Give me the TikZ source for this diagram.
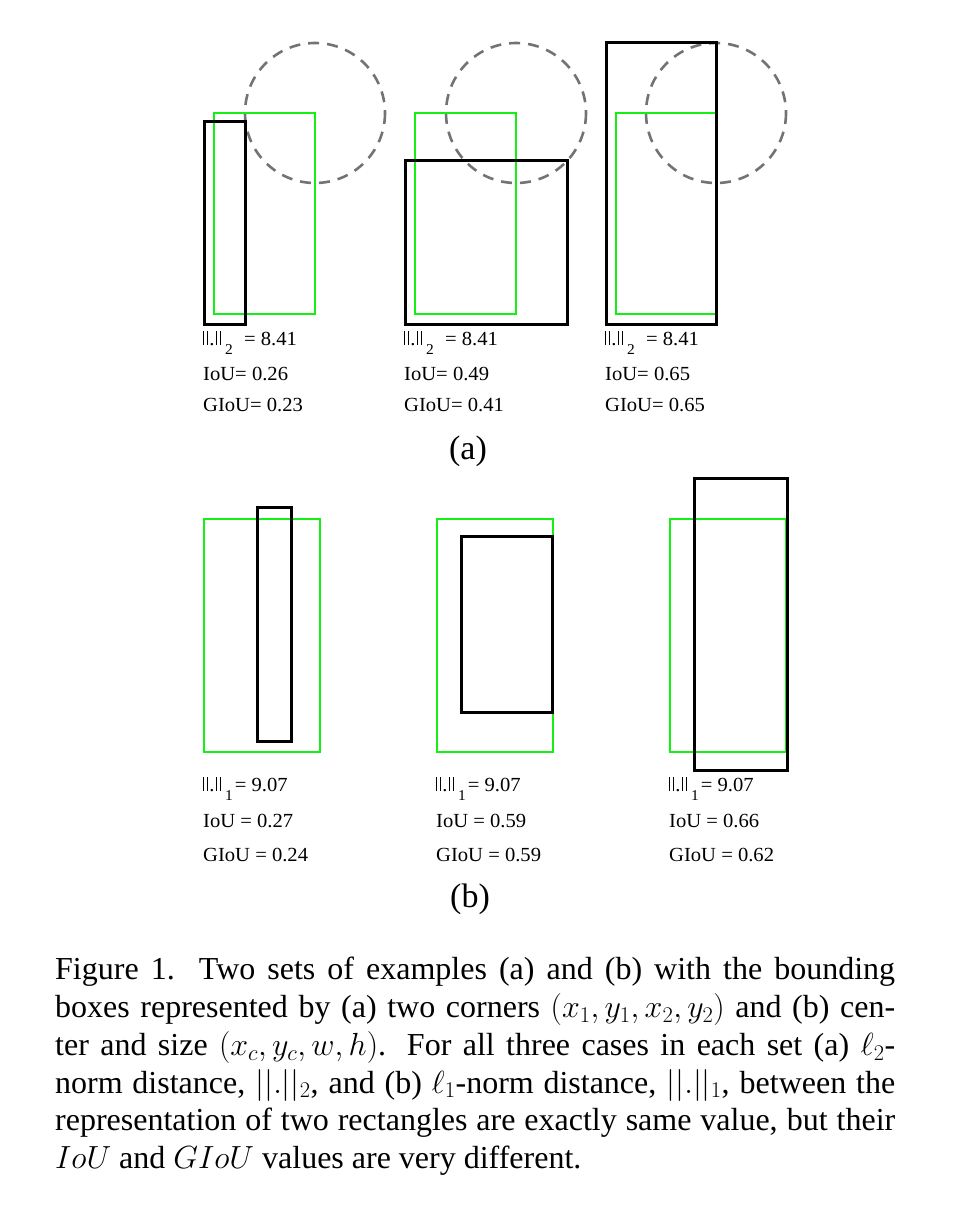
\RequirePackage{fix-cm}
\documentclass[tikz,border=0pt]{standalone}
\usepackage[no-math]{fontspec}
\setmainfont{Liberation Serif}
\usepackage{graphicx}
\definecolor{boxgreen}{RGB}{20,240,20}
\definecolor{circgray}{RGB}{115,115,115}
\newcommand\nbar{\rule{1.15pt}{14pt}\kern2.4pt\rule{1.15pt}{14pt}}
\newcommand\nrm{\nbar\kern1.4pt.\kern1.4pt\nbar}
\newcommand\subfnt{\fontsize{15}{15}\selectfont}
\tikzset{
  gbox/.style={draw=boxgreen, line width=2.9pt},
  kbox/.style={draw=black, line width=3pt},
  dcirc/.style={draw=circgray, line width=2.6pt, dash pattern=on 11pt off 8pt},
  lab/.style={anchor=base west, inner sep=0pt, font=\fontsize{20}{20}\selectfont},
  sublab/.style={anchor=base, inner sep=0pt, font=\fontsize{34}{34}\selectfont},
}
\newcommand\sx[1]{\scalebox{1.03}[1]{#1}}
\begin{document}
\begin{tikzpicture}[x=1pt,y=-1pt]
\useasboundingbox (0,0) rectangle (968,1230);
% ---- panel (a)
\draw[dcirc] (315,113) circle (70);
\draw[dcirc] (516,113) circle (70);
\draw[dcirc] (716,113) circle (70);
\draw[gbox] (214,113) rectangle (315,314);
\draw[gbox] (415,113) rectangle (516,314);
\draw[gbox] (616,113) rectangle (716,314);
\draw[kbox] (204,122) rectangle (245,324);
\draw[kbox] (405,161) rectangle (567,324);
\draw[kbox] (606,43) rectangle (716,324);
% labels (a)
\node[lab] (a1n) at (203,345) {\sx{\nrm\kern4pt\raisebox{-9pt}{\subfnt 2}\kern11pt= 8.41}};
\node[lab] (a1i) at (203,380) {\sx{IoU= 0.26}};
\node[lab] (a1g) at (203,411) {\sx{GIoU= 0.23}};
\node[lab] (a2n) at (404,345) {\sx{\nrm\kern4pt\raisebox{-9pt}{\subfnt 2}\kern11pt= 8.41}};
\node[lab] (a2i) at (404,380) {\sx{IoU= 0.49}};
\node[lab] (a2g) at (404,411) {\sx{GIoU= 0.41}};
\node[lab] (a3n) at (605,345) {\sx{\nrm\kern4pt\raisebox{-9pt}{\subfnt 2}\kern11pt= 8.41}};
\node[lab] (a3i) at (605,380) {\sx{IoU= 0.65}};
\node[lab] (a3g) at (605,411) {\sx{GIoU= 0.65}};
\node[sublab] (capa) at (468,459) {(a)};
% ---- panel (b)
\draw[gbox] (204,519) rectangle (320,752);
\draw[kbox] (257,507) rectangle (291,741);
\draw[gbox] (437,519) rectangle (553,752);
\draw[kbox] (461,536) rectangle (552,712);
\draw[gbox] (670,519) rectangle (786,752);
\draw[kbox] (694,478) rectangle (787,770);
% labels (b)
\node[lab] (b1n) at (203,791) {\sx{\nrm\kern4pt\raisebox{-9pt}{\subfnt 1}\kern2pt= 9.07}};
\node[lab] (b1i) at (203,827) {\sx{IoU = 0.27}};
\node[lab] (b1g) at (203,861) {\sx{GIoU = 0.24}};
\node[lab] (b2n) at (436,791) {\sx{\nrm\kern4pt\raisebox{-9pt}{\subfnt 1}\kern2pt= 9.07}};
\node[lab] (b2i) at (436,827) {\sx{IoU = 0.59}};
\node[lab] (b2g) at (436,861) {\sx{GIoU = 0.59}};
\node[lab] (b3n) at (669,791) {\sx{\nrm\kern4pt\raisebox{-9pt}{\subfnt 1}\kern2pt= 9.07}};
\node[lab] (b3i) at (669,827) {\sx{IoU = 0.66}};
\node[lab] (b3g) at (669,861) {\sx{GIoU = 0.62}};
\node[sublab] (capb) at (470,907) {(b)};
% ---- caption
\node[anchor=north west, inner sep=0pt, text width=840pt, align=justify,
      font=\fontsize{32}{37.8}\selectfont] (caption) at (55,957)
{\hyphenpenalty=10000\exhyphenpenalty=10000%
Figure 1.\ \ Two sets of examples (a) and (b) with the bounding\linebreak
boxes represented by (a) two corners $(x_1,y_1,x_2,y_2)$ and (b) cen-\linebreak
ter and size $(x_c,y_c,w,h)$. For all three cases in each set (a) $\ell_2$-\linebreak
norm distance, $||.||_2$, and (b) $\ell_1$-norm distance, $||.||_1$, between the\linebreak
representation of two rectangles are exactly same value, but their\linebreak
$IoU$ and $GIoU$ values are very different.};
\end{tikzpicture}
\end{document}
